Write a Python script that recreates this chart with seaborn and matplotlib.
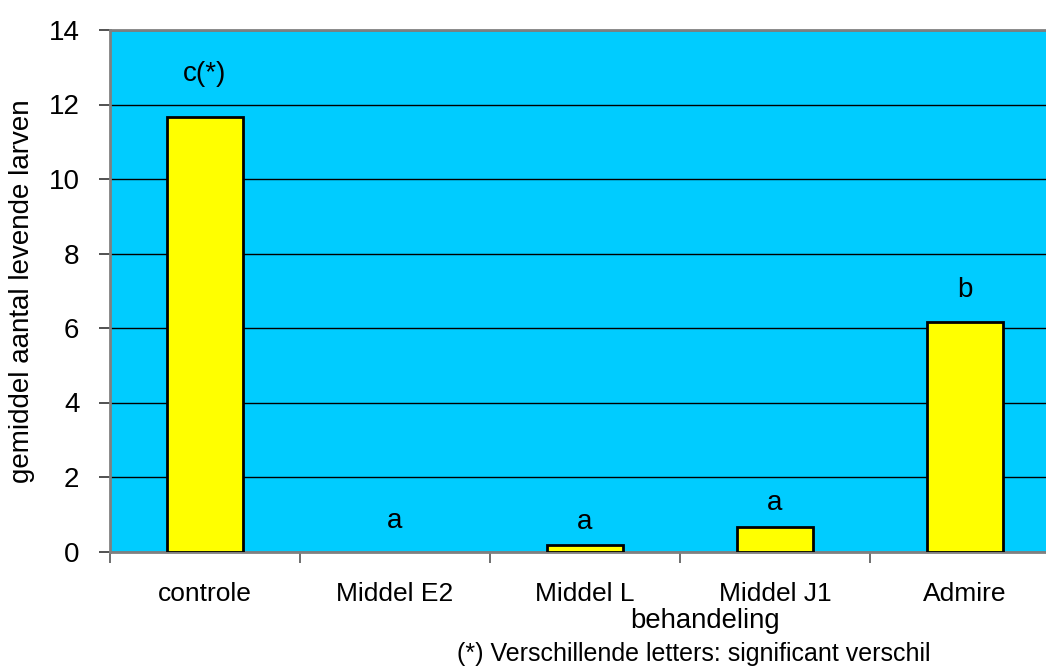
import matplotlib
matplotlib.use("Agg")
import matplotlib.pyplot as plt
import seaborn as sns
import pandas as pd

# Mean number of surviving larvae per treatment
treatments = ["controle", "Middel E2", "Middel L", "Middel J1", "Admire"]
mean_larvae = [11.67, 0.0, 0.17, 0.67, 6.17]
letters = ["c(*)", "a", "a", "a", "b"]
y_ticks = [0, 2, 4, 6, 8, 10, 12, 14]

sns.set_style("ticks")
plt.rcParams["font.family"] = ["Liberation Sans", "DejaVu Sans"]
plt.rcParams["text.color"] = "black"
plt.rcParams["axes.labelcolor"] = "black"
plt.rcParams["xtick.color"] = "black"
plt.rcParams["ytick.color"] = "black"

df = pd.DataFrame({"behandeling": treatments, "larven": mean_larvae})

fig = plt.figure(figsize=(10.46, 6.66), dpi=100)
ax = fig.add_axes([110 / 1046, 1 - 551.5 / 666, 950 / 1046, 521.5 / 666])
ax.set_facecolor("#00CCFF")

sns.barplot(data=df, x="behandeling", y="larven", color="#FFFF00",
            edgecolor="black", linewidth=2.0, width=0.4, saturation=1,
            ax=ax, zorder=3)
# a zero-height bar leaves no visible outline
for patch in ax.patches:
    if patch.get_height() == 0:
        patch.set_linewidth(0)

ax.set_ylim(0, 14)
ax.set_xlim(-0.5, len(treatments) - 0.5)
ax.set_yticks(y_ticks)
ax.set_yticklabels([str(t) for t in y_ticks])
ax.yaxis.grid(True, color="black", linewidth=1.0, zorder=1)
ax.set_axisbelow(True)

# category boundaries carry the x ticks
ax.set_xticks([i - 0.5 for i in range(len(treatments) + 1)], minor=False)
ax.set_xticklabels([])
ax.set_xticks(range(len(treatments)), minor=True)
ax.set_xticklabels(treatments, minor=True, fontsize=19)
ax.tick_params(axis="x", which="minor", length=0, pad=22)
ax.tick_params(axis="x", which="major", length=8, width=1.2, color="#555555")
ax.tick_params(axis="y", length=8, width=1.2, color="#333333", labelsize=20, pad=14)

for side in ["top", "left", "bottom", "right"]:
    ax.spines[side].set_color("#808080")
    ax.spines[side].set_linewidth(2.0)

ax.set_ylabel("gemiddel aantal levende larven", fontsize=20, labelpad=10)
ax.set_xlabel("behandeling", fontsize=19.8, va="center")
ax.xaxis.set_label_coords((705 - 110) / 950, (551.5 - 621) / 521.5)

# significance letters above each bar
letter_offsets = [26, 17, 12, 12, 18]
for i, (val, lab, off) in enumerate(zip(mean_larvae, letters, letter_offsets)):
    ax.annotate(lab, xy=(i, val), xytext=(0, off), textcoords="offset points",
                ha="center", va="baseline", fontsize=20, zorder=4)

fig.text(694 / 1046, 1 - 653.5 / 666, "(*) Verschillende letters: significant verschil",
         ha="center", va="center", fontsize=18)

fig.savefig("out.png", dpi=100)
